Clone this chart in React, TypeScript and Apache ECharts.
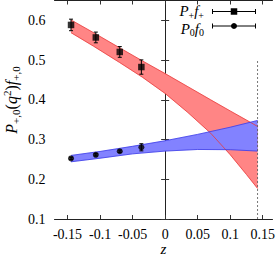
import React, { useEffect, useRef } from "react";
import * as echarts from "echarts";

// ---- data ----
const zPoints = [-0.1446, -0.1065, -0.0697, -0.0365];
const plusVals = [0.5885, 0.557, 0.5205, 0.4825];
const plusErr = [0.0145, 0.0135, 0.0135, 0.018];
const zeroVals = [0.2525, 0.2615, 0.2705, 0.2805];
const zeroErr = [0.003, 0.003, 0.003, 0.009];

const redZ = [-0.1446, -0.11, -0.07, -0.035, 0.0, 0.035, 0.07, 0.1, 0.125, 0.142];
const redLo = [0.569, 0.535, 0.494, 0.457, 0.416, 0.368, 0.316, 0.262, 0.212, 0.177];
const redHi = [0.601, 0.569, 0.531, 0.498, 0.466, 0.433, 0.400, 0.372, 0.349, 0.333];

const blueZ = [-0.1446, -0.1, -0.05, 0.0, 0.05, 0.1, 0.142];
const blueLo = [0.244, 0.253, 0.264, 0.271, 0.275, 0.2745, 0.271];
const blueHi = [0.260, 0.270, 0.283, 0.297, 0.313, 0.331, 0.348];

const zMax = 0.142;
const dashTop = 0.5;

const xTicks = [-0.15, -0.1, -0.05, 0, 0.05, 0.1, 0.15];
const xTickLabels = ["-0.15", "-0.1", "-0.05", "0", "0.05", "0.1", "0.15"];
const yTicks = [0.1, 0.2, 0.3, 0.4, 0.5, 0.6];
const yTickLabels = ["0.1", "0.2", "0.3", "0.4", "0.5", "0.6"];

const FONT = "'Liberation Serif', 'DejaVu Serif', serif";

function bandItem(z: number[], lo: number[], hi: number[], fill: string) {
  return (params: any, api: any) => {
    if (params.dataIndex !== 0) return null;
    const top = z.map((x, i) => api.coord([x, hi[i]]));
    const bot = z.map((x, i) => api.coord([x, lo[i]])).reverse();
    return {
      type: "polygon",
      silent: true,
      shape: { points: top.concat(bot) },
      style: { fill, stroke: fill, lineWidth: 0.3 },
    };
  };
}

function errItem(params: any, api: any) {
  const x = api.value(0);
  const v = api.value(1);
  const e = api.value(2);
  const p1 = api.coord([x, v + e]);
  const p2 = api.coord([x, v - e]);
  const c = 2;
  const st = { stroke: "#000", lineWidth: 1 };
  return {
    type: "group",
    children: [
      { type: "line", shape: { x1: p1[0], y1: p1[1], x2: p2[0], y2: p2[1] }, style: st },
      { type: "line", shape: { x1: p1[0] - c, y1: p1[1], x2: p1[0] + c, y2: p1[1] }, style: st },
      { type: "line", shape: { x1: p2[0] - c, y1: p2[1], x2: p2[0] + c, y2: p2[1] }, style: st },
    ],
  };
}

function makeRich(big: number, small: number, lhBig: number, lhSmall: number) {
  return {
    i: { fontFamily: FONT, fontStyle: "italic", fontSize: big, lineHeight: lhBig, verticalAlign: "middle", color: "#000" },
    n: { fontFamily: FONT, fontSize: big, lineHeight: lhBig, verticalAlign: "middle", color: "#000" },
    sub: { fontFamily: FONT, fontSize: small, lineHeight: lhSmall, verticalAlign: "bottom", color: "#000" },
    sup: { fontFamily: FONT, fontSize: small, lineHeight: lhSmall, verticalAlign: "top", color: "#000" },
  };
}

function legendEntry(y: number, ty: number, marker: any, text: string) {
  const x1 = 212.5, x2 = 255.5, c = 2.5;
  const st = { stroke: "#000", lineWidth: 1 };
  return [
    { type: "text", x: 204, y: ty, style: { text, rich: makeRich(15, 10, 18, 10), align: "right", verticalAlign: "middle" } },
    { type: "line", shape: { x1, y1: y, x2, y2: y }, style: st },
    { type: "line", shape: { x1, y1: y - c, x2: x1, y2: y + c }, style: st },
    { type: "line", shape: { x1: x2, y1: y - c, x2, y2: y + c }, style: st },
    marker,
  ];
}

export default function App() {
  const ref = useRef<HTMLDivElement>(null);
  useEffect(() => {
    if (!ref.current) return;
    const chart = echarts.init(ref.current, null, { renderer: "svg" });
    const axisLine = { show: true, lineStyle: { color: "#222", width: 1 } };
    const tickStyle = { inside: true, length: 4, lineStyle: { color: "#333", width: 1 } };
    const labelFont = { fontFamily: FONT, fontSize: 14, color: "#000" };
    chart.setOption({
      animation: false,
      grid: { left: 54.5, right: 3.5, top: 0.5, bottom: 36, containLabel: false, outerBoundsMode: "none" },
      xAxis: [
        {
          type: "value", min: -0.17, max: 0.165, position: "bottom",
          axisLine, splitLine: { show: false },
          axisTick: { ...tickStyle, customValues: xTicks },
          axisLabel: {
            ...labelFont, margin: 8, customValues: xTicks,
            formatter: (v: number) => { const i = xTicks.findIndex((t) => Math.abs(t - v) < 1e-9); return i >= 0 ? xTickLabels[i] : ""; },
          },
          name: "z", nameLocation: "middle", nameGap: 22, nameMoveOverlap: false,
          nameTextStyle: { fontFamily: FONT, fontStyle: "italic", fontSize: 15, lineHeight: 15, color: "#000" },
        },
        {
          type: "value", min: -0.17, max: 0.165, position: "top",
          axisLine, splitLine: { show: false },
          axisTick: { ...tickStyle, customValues: xTicks },
          axisLabel: { show: false },
        },
      ],
      yAxis: [
        {
          type: "value", min: 0.1, max: 0.65, position: "left",
          axisLine, splitLine: { show: false },
          axisTick: { ...tickStyle, customValues: yTicks },
          axisLabel: {
            ...labelFont, margin: 9, customValues: yTicks,
            formatter: (v: number) => { const i = yTicks.findIndex((t) => Math.abs(t - v) < 1e-9); return i >= 0 ? yTickLabels[i] : ""; },
          },
        },
        {
          type: "value", min: 0.1, max: 0.65, position: "right",
          axisLine, splitLine: { show: false },
          axisTick: { ...tickStyle, customValues: yTicks },
          axisLabel: { show: false },
        },
      ],
      series: [
        {
          type: "custom", renderItem: bandItem(redZ, redLo, redHi, "#ff8585"),
          data: redZ.map((z, i) => [z, redLo[i], redHi[i]]), z: 1, silent: true,
        },
        {
          type: "custom", renderItem: bandItem(blueZ, blueLo, blueHi, "#8282ff"),
          data: blueZ.map((z, i) => [z, blueLo[i], blueHi[i]]), z: 2, silent: true,
        },
        ...[redLo, redHi].map((arr) => ({
          type: "line", data: redZ.map((z, i) => [z, arr[i]]), showSymbol: false, z: 3,
          lineStyle: { color: "#e83a3a", width: 0.8 },
        })),
        ...[blueLo, blueHi].map((arr) => ({
          type: "line", data: blueZ.map((z, i) => [z, arr[i]]), showSymbol: false, z: 3,
          lineStyle: { color: "#3a3ae8", width: 0.8 },
        })),
        {
          type: "line", data: [[zMax, 0.1], [zMax, dashTop]], showSymbol: false, z: 4,
          lineStyle: { color: "#555", width: 0.8, type: [2, 2] },
        },
        {
          type: "custom", renderItem: errItem, z: 5,
          data: zPoints.map((z, i) => [z, plusVals[i], plusErr[i]]),
        },
        {
          type: "custom", renderItem: errItem, z: 5,
          data: zPoints.map((z, i) => [z, zeroVals[i], zeroErr[i]]),
        },
        {
          type: "scatter", symbol: "rect", symbolSize: 6.5, z: 6,
          itemStyle: { color: "#000" }, data: zPoints.map((z, i) => [z, plusVals[i]]),
        },
        {
          type: "scatter", symbol: "circle", symbolSize: 6, z: 6,
          itemStyle: { color: "#000" }, data: zPoints.map((z, i) => [z, zeroVals[i]]),
        },
      ],
      graphic: [
        {
          type: "text", x: 11, y: 100, rotation: Math.PI / 2,
          style: {
            text: "{i|P}{sub|+,0}{n|(}{i|q}{sup|2}{n|)}{i|f}{sub|+,0}",
            rich: makeRich(16, 11, 20, 12), align: "center", verticalAlign: "middle",
          },
        },
        ...legendEntry(11.5, 11, { type: "rect", shape: { x: 234 - 3.25, y: 11.5 - 3.25, width: 6.5, height: 6.5 }, style: { fill: "#000" } },
          "{i|P}{sub|+}{i|f}{sub|+}"),
        ...legendEntry(26, 28.5, { type: "circle", shape: { cx: 234, cy: 26, r: 3 }, style: { fill: "#000" } },
          "{i|P}{sub|0}{i|f}{sub|0}"),
      ],
    });
    return () => chart.dispose();
  }, []);
  return <div ref={ref} style={{ width: 276, height: 255, position: "absolute", left: 0, top: 0 }} />;
}
